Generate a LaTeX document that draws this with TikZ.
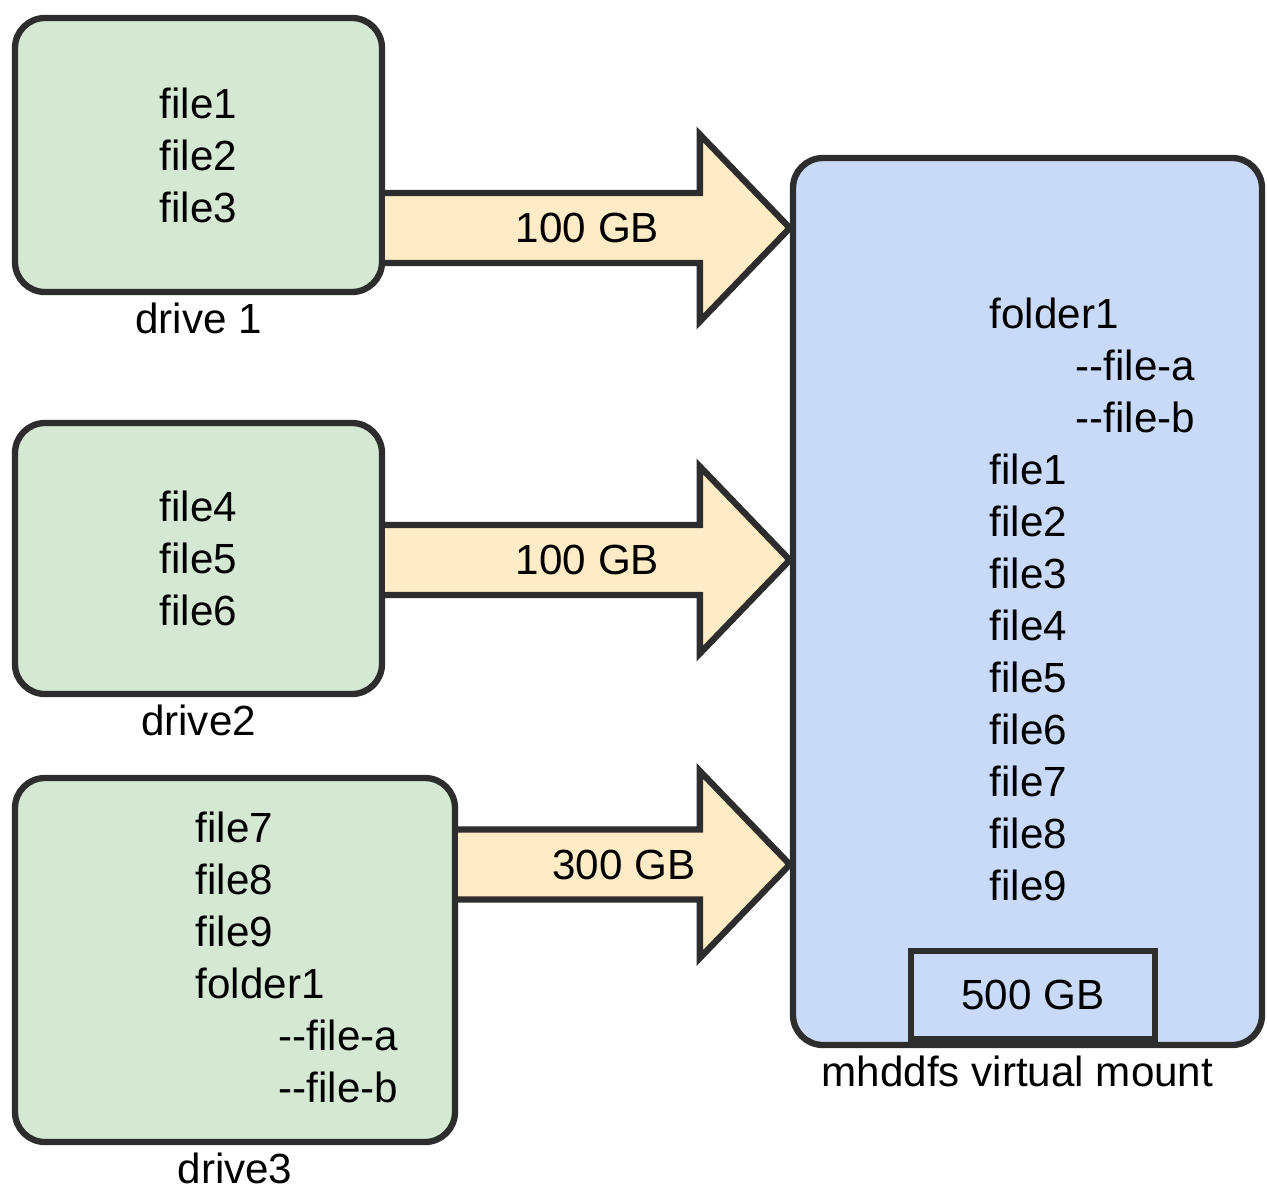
\documentclass[tikz,border=0pt]{standalone}
\usepackage{fontspec}
\setmainfont{Liberation Sans}
\usetikzlibrary{positioning,calc}
\definecolor{drivegreen}{RGB}{213,232,212}
\definecolor{mountblue}{RGB}{201,218,248}
\definecolor{arrowpeach}{RGB}{255,236,198}
\definecolor{edgegray}{RGB}{45,45,45}
\tikzset{
  every node/.style={font=\fontsize{12}{14.8}\selectfont},
  drivebox/.style={draw=edgegray, line width=1.8pt, fill=drivegreen, rounded corners=0.3cm, align=center},
  mountbox/.style={draw=edgegray, line width=1.8pt, fill=mountblue, rounded corners=0.3cm},
  sizebox/.style={draw=edgegray, line width=1.8pt, fill=mountblue},
  filelist/.style={inner sep=0pt, align=left, anchor=west},
  caption/.style={inner sep=0pt, below=0.07cm of #1},
  arrowshape/.style={draw=edgegray, line width=1.8pt, fill=arrowpeach},
}
% block arrow from a drive box to the mount box
\newcommand{\drivearrow}[4]{%
  \coordinate (#3s) at (#1.east |- 0,#2);
  \coordinate (#3t) at (mount.west |- 0,#2);
  \draw[arrowshape] ($(#3s)+(0,0.35)$) -- ($(#3t)+(-0.9,0.35)$) -- ($(#3t)+(-0.9,0.935)$)
    -- (#3t) -- ($(#3t)+(-0.9,-0.935)$) -- ($(#3t)+(-0.9,-0.35)$) -- ($(#3s)+(0,-0.35)$);
  \node (#3l) at ($(#3s)!0.5!(#3t)$) {#4};
}
\begin{document}
\begin{tikzpicture}
    \useasboundingbox (0,0) rectangle (12.67,11.88);
    % drives
    \node[drivebox, minimum width=3.67cm, minimum height=2.74cm] (drive1) at (1.985,10.33) {file1\\file2\\file3};
    \node[caption=drive1] (cap1) {drive 1};
    \node[drivebox, minimum width=3.67cm, minimum height=2.71cm] (drive2) at (1.985,6.295) {file4\\file5\\file6};
    \node[caption=drive2] (cap2) {drive2};
    \node[drivebox, minimum width=4.40cm, minimum height=3.64cm] (drive3) at (2.35,2.28) {};
    \node[filelist] (list3) at (1.95,2.305) {file7\\file8\\file9\\folder1\\\hspace*{0.83cm}-{}-file-a\\\hspace*{0.83cm}-{}-file-b};
    \node[caption=drive3] (cap3) {drive3};
    % virtual mount
    \node[mountbox, minimum width=4.69cm, minimum height=8.87cm] (mount) at (10.275,5.865) {};
    \node[filelist] (list9) at (9.89,5.885) {folder1\\\hspace*{0.86cm}-{}-file-a\\\hspace*{0.86cm}-{}-file-b\\file1\\file2\\file3\\file4\\file5\\file6\\file7\\file8\\file9};
    \node[sizebox, minimum width=2.44cm, minimum height=0.88cm] (total) at (10.33,1.93) {500 GB};
    \node[caption=mount, xshift=-0.1cm] (capm) {mhddfs virtual mount};
    % arrows
    \drivearrow{drive1}{9.60}{a1}{100 GB}
    \drivearrow{drive2}{6.28}{a2}{100 GB}
    \drivearrow{drive3}{3.235}{a3}{300 GB}
\end{tikzpicture}
\end{document}
